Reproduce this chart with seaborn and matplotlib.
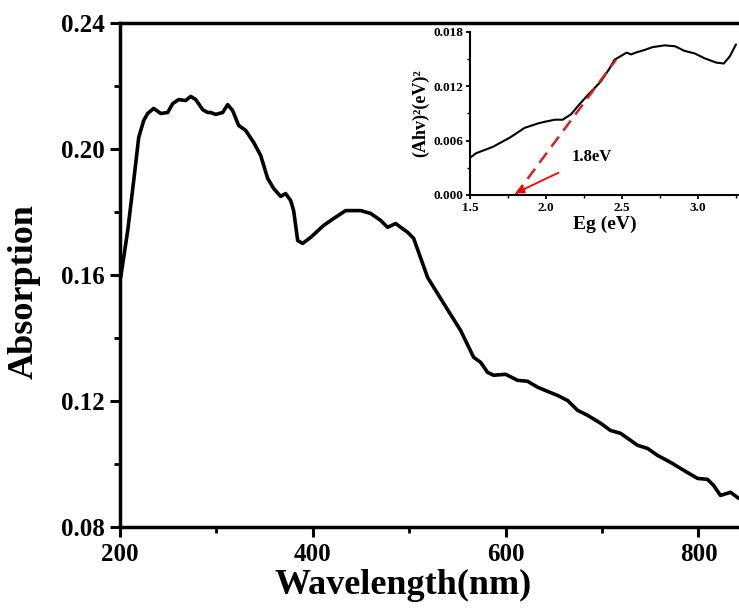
import seaborn as sns
import numpy as np
import matplotlib.pyplot as plt

# main absorption spectrum
wavelength = [201.0, 208.3, 214.5, 219.7, 224.9, 229.0, 235.2, 242.5, 249.7,
              254.9, 261.1, 268.4, 273.6, 278.8, 286.0, 291.2, 294.3, 299.5,
              306.7, 311.9, 317.1, 323.3, 330.6, 338.9, 346.1, 353.4, 359.6,
              366.8, 372.0, 377.2, 380.3, 384.5, 389.6, 397.9, 411.4, 421.8,
              434.2, 449.8, 460.1, 470.5, 477.7, 486.0, 498.5, 504.7, 519.2,
              535.8, 553.4, 566.9, 574.1, 581.4, 587.6, 600.0, 612.4, 622.8,
              633.2, 643.5, 653.9, 664.3, 674.6, 685.0, 698.5, 708.8, 719.2,
              736.8, 747.2, 757.5, 771.0, 784.5, 799.0, 809.3, 815.6, 822.8,
              833.2, 841.5]
absorption = [0.1592, 0.1741, 0.1899, 0.2036, 0.2090, 0.2112, 0.2128, 0.2112,
              0.2115, 0.2143, 0.2156, 0.2153, 0.2166, 0.2156, 0.2124, 0.2115,
              0.2115, 0.2109, 0.2115, 0.2140, 0.2121, 0.2074, 0.2058, 0.2020,
              0.1979, 0.1906, 0.1874, 0.1849, 0.1858, 0.1836, 0.1804, 0.1709,
              0.1700, 0.1719, 0.1757, 0.1779, 0.1804, 0.1804, 0.1795, 0.1773,
              0.1751, 0.1763, 0.1735, 0.1716, 0.1592, 0.1510, 0.1424, 0.1339,
              0.1323, 0.1291, 0.1282, 0.1285, 0.1266, 0.1263, 0.1244, 0.1231,
              0.1218, 0.1202, 0.1171, 0.1155, 0.1130, 0.1107, 0.1098, 0.1060,
              0.1050, 0.1028, 0.1006, 0.0981, 0.0955, 0.0952, 0.0933, 0.0901,
              0.0911, 0.0892]

# inset: Tauc plot
eg = [1.50, 1.54, 1.65, 1.76, 1.86, 1.95, 2.00, 2.06, 2.11, 2.165, 2.22, 2.28,
      2.36, 2.42, 2.45, 2.49, 2.53, 2.56, 2.59, 2.65, 2.70, 2.78, 2.85, 2.91,
      2.98, 3.04, 3.12, 3.17, 3.21, 3.25]
ahv2 = [0.0041, 0.0046, 0.0053, 0.0063, 0.0074, 0.0079, 0.0081, 0.0083, 0.0083,
        0.0089, 0.0100, 0.0111, 0.0125, 0.0140, 0.0149, 0.0153, 0.0157, 0.0155,
        0.0157, 0.0160, 0.0163, 0.0165, 0.0164, 0.0159, 0.0156, 0.0151, 0.0146,
        0.0145, 0.0153, 0.0166]
fit_x = [1.80, 2.46]
fit_y = [0.0, 0.0149]
band_gap = 1.8

sns.set_style("ticks", {"axes.edgecolor": "black", "xtick.color": "black",
                        "ytick.color": "black", "text.color": "black",
                        "axes.labelcolor": "black"})
plt.rcParams['font.family'] = ['Liberation Serif', 'DejaVu Serif']
plt.rcParams['font.weight'] = 'bold'

fig = plt.figure(figsize=(7.39, 6.11), dpi=100)
ax = fig.add_axes([0.162, 0.137, 0.838, 0.826])
sns.lineplot(x=wavelength, y=absorption, ax=ax, color="black", lw=2.6)
ax.set_xlim(200, 842)
ax.set_ylim(0.08, 0.24)
ax.set_xticks([200, 400, 600, 800])
ax.set_xticks([300, 500, 700], minor=True)
ax.set_yticks([0.08, 0.12, 0.16, 0.20, 0.24])
ax.set_yticks([0.10, 0.14, 0.18, 0.22], minor=True)
ax.set_yticklabels(["0.08", "0.12", "0.16", "0.20", "0.24"])
ax.tick_params(which="major", length=7, width=2.2, labelsize=18, pad=4)
ax.tick_params(which="minor", length=4, width=2)
ax.set_xlabel("Wavelength(nm)", fontsize=26, fontweight="bold")
ax.set_ylabel("Absorption", fontsize=26, fontweight="bold")
ax.xaxis.set_label_coords(0.457, -0.082)
ax.yaxis.set_label_coords(-0.127, 0.467)
for s in ["left", "bottom", "top"]:
    ax.spines[s].set_linewidth(2.5)
ax.spines["right"].set_visible(False)
for lab in ax.get_xticklabels() + ax.get_yticklabels():
    lab.set_fontweight("bold")

ins = fig.add_axes([0.636, 0.681, 0.364, 0.267])
sns.lineplot(x=eg, y=ahv2, ax=ins, color="black", lw=1.5)
sns.lineplot(x=fit_x, y=fit_y, ax=ins, color="#d62020", lw=1.8, linestyle=(0, (5, 3)))
ins.annotate("1.8eV", xy=(band_gap, 0.0002), xytext=(2.17, 0.0042),
             color="black", fontsize=12, fontweight="bold", va="center",
             arrowprops=dict(arrowstyle="-|>", color="red", lw=1.3,
                             shrinkA=8, shrinkB=0, mutation_scale=12))
ins.set_xlim(1.5, 3.27)
ins.set_ylim(0, 0.018)
ins.set_xticks([1.5, 2.0, 2.5, 3.0])
ins.set_yticks([0.0, 0.006, 0.012, 0.018])
ins.set_yticklabels(["0.000", "0.006", "0.012", "0.018"])
ins.set_xticks([1.75, 2.25, 2.75, 3.25], minor=True)
ins.set_yticks([0.003, 0.009, 0.015], minor=True)
ins.tick_params(which="major", length=3, width=1.3, labelsize=9.5, pad=2)
ins.tick_params(which="minor", length=2, width=1)
ins.set_xlabel("Eg (eV)", fontsize=14, fontweight="bold", labelpad=1)
ins.set_ylabel("(Ahv)²(eV)²", fontsize=13, fontweight="bold", labelpad=3)
for s in ["left", "bottom"]:
    ins.spines[s].set_linewidth(1.5)
ins.spines["right"].set_visible(False)
ins.spines["top"].set_visible(False)
for lab in ins.get_xticklabels() + ins.get_yticklabels():
    lab.set_fontweight("bold")

fig.savefig("out.png", dpi=100)
